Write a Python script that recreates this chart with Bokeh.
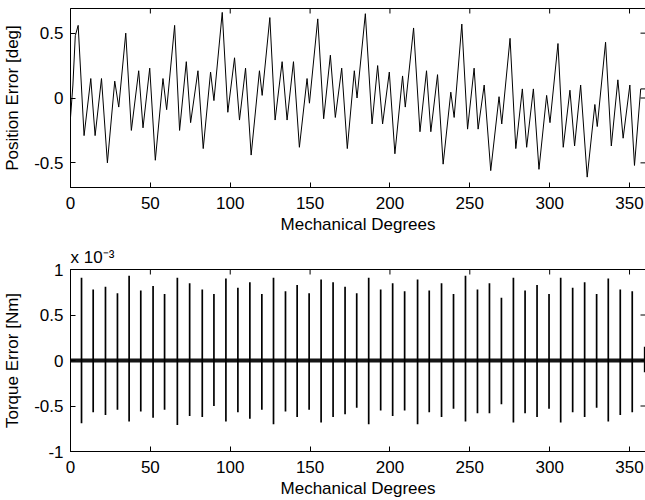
import math
from bokeh.plotting import figure
from bokeh.layouts import column
from bokeh.models import FixedTicker, Range1d, ColumnDataSource, Title
from bokeh.embed import file_html
from bokeh.resources import INLINE

# ---------------- data ----------------
# Top: position error [deg] vs mechanical degrees (local extrema / shoulders)
pos_deg = [0.0, 1.5, 3.0, 4.8, 8.5, 12.7, 15.4, 19.4, 23.1, 27.7, 30.2, 34.6,
           38.1, 42.7, 45.4, 49.6, 53.1, 57.9, 60.2, 65.2, 68.3, 72.5, 75.2,
           79.8, 83.1, 87.7, 89.8, 95.0, 98.5, 102.7, 105.8, 109.6, 113.1,
           118.3, 120.0, 124.8, 128.1, 132.5, 135.6, 139.6, 143.3, 148.1,
           149.6, 154.8, 158.5, 162.7, 165.8, 169.8, 173.3, 177.7, 179.4,
           184.6, 188.8, 192.3, 195.4, 199.6, 203.1, 207.9, 209.6, 214.8,
           218.8, 222.9, 225.6, 229.8, 233.3, 238.1, 240.2, 245.0, 248.6,
           252.7, 255.2, 259.0, 263.1, 268.3, 270.0, 275.2, 278.8, 282.9,
           285.6, 289.8, 293.3, 298.1, 300.2, 305.2, 308.5, 312.7, 315.6,
           319.4, 323.5, 328.3, 329.8, 335.0, 338.6, 342.7, 346.0, 350.2,
           353.1, 357.0, 360.0]
pos_err = [-0.15, 0.10, 0.48, 0.56, -0.29, 0.15, -0.29, 0.15, -0.50, 0.13, -0.07, 0.50,
           -0.25, 0.21, -0.23, 0.23, -0.48, 0.15, -0.09, 0.56, -0.25, 0.28, -0.19,
           0.21, -0.39, 0.20, -0.02, 0.66, -0.11, 0.31, -0.17, 0.23, -0.44,
           0.21, 0.02, 0.62, -0.17, 0.28, -0.17, 0.28, -0.38, 0.15,
           -0.04, 0.61, -0.16, 0.33, -0.15, 0.23, -0.39, 0.21, 0.00,
           0.65, -0.20, 0.25, -0.20, 0.20, -0.43, 0.17, -0.07, 0.54,
           -0.26, 0.21, -0.26, 0.18, -0.51, 0.045, -0.15, 0.57, -0.24,
           0.23, -0.24, 0.10, -0.56, 0.01, -0.20, 0.46, -0.39, 0.07,
           -0.38, 0.07, -0.55, 0.02, -0.19, 0.42, -0.38, 0.06, -0.37,
           0.10, -0.61, -0.05, -0.22, 0.43, -0.37, 0.14, -0.31, 0.10,
           -0.52, 0.07, 0.07]

# Bottom: torque error spikes [x 1e-3 Nm]
spike_deg = [6.9, 14.2, 21.9, 29.4, 36.7, 44.0, 51.7, 58.9, 66.9, 74.6,
             82.5, 89.8, 97.3, 104.8, 112.3, 119.8, 127.1, 134.6, 141.9, 149.4,
             156.9, 164.4, 171.9, 179.2, 186.7, 194.2, 201.7, 209.2, 217.3, 224.6,
             232.3, 239.8, 247.3, 254.8, 262.3, 269.8, 277.3, 284.6, 292.1, 299.6,
             306.9, 314.4, 321.9, 329.4, 336.7, 344.2, 351.7, 359.5]
spike_top = [0.91, 0.78, 0.81, 0.74, 0.93, 0.77, 0.82, 0.73, 0.91, 0.85,
             0.78, 0.73, 0.90, 0.80, 0.86, 0.73, 0.91, 0.76, 0.83, 0.74,
             0.89, 0.86, 0.81, 0.74, 0.91, 0.78, 0.85, 0.76, 0.89, 0.77,
             0.85, 0.73, 0.93, 0.78, 0.85, 0.69, 0.91, 0.77, 0.83, 0.73,
             0.91, 0.80, 0.86, 0.73, 0.90, 0.78, 0.76, 0.15]
spike_bot = [-0.69, -0.57, -0.60, -0.54, -0.67, -0.56, -0.63, -0.54, -0.71, -0.61,
             -0.62, -0.50, -0.67, -0.57, -0.64, -0.54, -0.70, -0.56, -0.62, -0.54,
             -0.68, -0.62, -0.59, -0.52, -0.70, -0.55, -0.61, -0.55, -0.70, -0.57,
             -0.62, -0.53, -0.67, -0.58, -0.58, -0.48, -0.68, -0.58, -0.62, -0.53,
             -0.68, -0.57, -0.62, -0.52, -0.67, -0.60, -0.57, -0.13]
# baseline noise level
noise_deg = [0, 360]
noise_val = [0.0, 0.0]

x_ticks = [0, 50, 100, 150, 200, 250, 300, 350]
x_labels = ["0", "50", "100", "150", "200", "250", "300", "350"]
y1_ticks = [-0.5, 0, 0.5]
y1_labels = ["-0.5", "0", "0.5"]
y2_ticks = [-1, -0.5, 0, 0.5, 1]
y2_labels = ["-1", "-0.5", "0", "0.5", "1"]
x_lim = (0, 360)
y1_lim = (-0.69, 0.69)
y2_lim = (-1, 1)

FONT = "Liberation Sans"
FS = "17px"


def style_axis(ax, ticks, labels, label, standoff, lab_standoff):
    ax.ticker = FixedTicker(ticks=ticks)
    ax.major_label_overrides = {t: l for t, l in zip(ticks, labels)}
    ax.major_tick_in = 5
    ax.major_tick_out = 0
    ax.minor_tick_in = 0
    ax.minor_tick_out = 0
    ax.axis_line_color = "black"
    ax.major_tick_line_color = "black"
    ax.major_label_text_font = FONT
    ax.major_label_text_font_size = FS
    ax.major_label_text_color = "black"
    ax.major_label_standoff = standoff
    ax.axis_label = label
    ax.axis_label_text_font = FONT
    ax.axis_label_text_font_size = FS
    ax.axis_label_text_font_style = "normal"
    ax.axis_label_text_color = "black"
    ax.axis_label_standoff = lab_standoff


def mirror_ticks(p, xt, yt, ylim):
    # inward ticks on the top and right edges of the box (MATLAB style)
    p.ray(x=xt, y=[ylim[1]] * len(xt), length=5, length_units="screen",
          angle=-math.pi / 2, line_color="black", line_width=1)
    p.ray(x=[x_lim[1]] * len(yt), y=yt, length=5, length_units="screen",
          angle=math.pi, line_color="black", line_width=1)


def make_fig(ylim, top_border, frame_h):
    p = figure(frame_width=575, frame_height=frame_h, x_range=Range1d(*x_lim),
               y_range=Range1d(*ylim), output_backend="svg", toolbar_location=None,
               min_border_left=69, min_border_right=1, min_border_top=top_border,
               min_border_bottom=0, background_fill_color="white",
               border_fill_color="white")
    p.xgrid.visible = False
    p.ygrid.visible = False
    p.outline_line_color = "black"
    p.outline_line_width = 1
    return p


# ---------------- top plot ----------------
p1 = make_fig(y1_lim, 8, 179)
p1.line(x=pos_deg, y=pos_err, line_color="black", line_width=1)
style_axis(p1.xaxis[0], x_ticks, x_labels, "Mechanical Degrees", 9, 3)
style_axis(p1.yaxis[0], y1_ticks, y1_labels, "Position Error [deg]", 7, 9)
mirror_ticks(p1, x_ticks, y1_ticks, y1_lim)

# ---------------- bottom plot ----------------
p2 = make_fig(y2_lim, 33, 182)
p2.line(x=noise_deg, y=noise_val, line_color="#151515", line_width=4)
src = ColumnDataSource(dict(x=spike_deg, top=spike_top, bot=spike_bot))
p2.segment(x0="x", y0="bot", x1="x", y1="top", source=src,
           line_color="black", line_width=1.7)
style_axis(p2.xaxis[0], x_ticks, x_labels, "Mechanical Degrees", 9, 3)
style_axis(p2.yaxis[0], y2_ticks, y2_labels, "Torque Error [Nm]", 7, 9)
mirror_ticks(p2, x_ticks, y2_ticks, y2_lim)

p2.add_layout(Title(text="x 10\u207b\u00b3", align="left", text_font=FONT,
                    text_font_size=FS, text_font_style="normal",
                    text_color="black", standoff=6, offset=0), "above")

layout = column(p1, p2, spacing=0)
open("out.html", "w").write(file_html(layout, INLINE))
